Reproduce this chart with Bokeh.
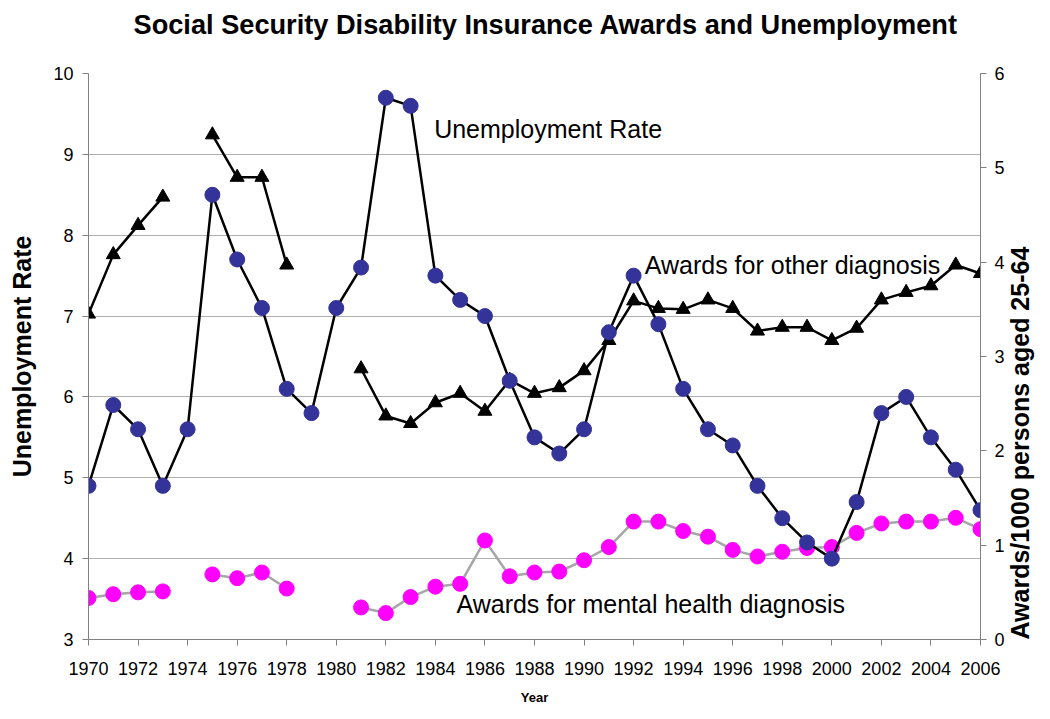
import math
from bokeh.plotting import figure
from bokeh.models import (Range1d, LinearAxis, FixedTicker, Label, ColumnDataSource, Title)
from bokeh.embed import file_html
from bokeh.resources import INLINE

nan = float("nan")
years = list(range(1970, 2007))
unemployment = [4.9, 5.9, 5.6, 4.9, 5.6, 8.5, 7.7, 7.1, 6.1, 5.8,
                7.1, 7.6, 9.7, 9.6, 7.5, 7.2, 7.0, 6.2, 5.5, 5.3,
                5.6, 6.8, 7.5, 6.9, 6.1, 5.6, 5.4, 4.9, 4.5, 4.2,
                4.0, 4.7, 5.8, 6.0, 5.5, 5.1, 4.6]
other_awards = [3.45, 4.08, 4.39, 4.69, nan, 5.35, 4.90, 4.90, 3.97, nan,
                nan, 2.87, 2.37, 2.29, 2.51, 2.61, 2.42, 2.75, 2.61, 2.67,
                2.85, 3.17, 3.59, 3.51, 3.50, 3.60, 3.51, 3.27, 3.31, 3.31,
                3.17, 3.30, 3.60, 3.68, 3.75, 3.97, 3.88]
mental_awards = [0.44, 0.48, 0.50, 0.51, nan, 0.69, 0.65, 0.71, 0.54, nan,
                 nan, 0.34, 0.28, 0.45, 0.56, 0.59, 1.05, 0.67, 0.71, 0.72,
                 0.84, 0.98, 1.25, 1.25, 1.15, 1.09, 0.95, 0.88, 0.93, 0.97,
                 0.98, 1.13, 1.23, 1.25, 1.25, 1.29, 1.17]
x_ticks = list(range(1970, 2007, 2))
left_ticks = [3, 4, 5, 6, 7, 8, 9, 10]
right_ticks = [0, 1, 2, 3, 4, 5, 6]

title_text = "Social Security Disability Insurance Awards and Unemployment"
left_label = "Unemployment Rate"
right_label = "Awards/1000 persons aged 25-64"
x_label = "Year"

FONT = "Liberation Sans"

p = figure(width=1050, height=712, output_backend="svg", toolbar_location=None,
           x_range=Range1d(1970, 2006), y_range=Range1d(3, 10),
           min_border_left=88, min_border_right=67, min_border_top=73, min_border_bottom=73)
p.outline_line_color = None
p.background_fill_color = "white"
p.border_fill_color = "white"

p.title.text = title_text
p.title.text_font = FONT
p.title.text_font_size = "27.2px"
p.title.text_font_style = "bold"
p.title.text_color = "black"
p.title.align = "left"
p.title.offset = 45
p.title.standoff = 0

# blank spacer between the title and the plotting area
p.add_layout(Title(text="\u00a0", text_font=FONT, text_font_size="10px", standoff=21), "above")

p.extra_y_ranges = {"awards": Range1d(0, 6)}

xa = p.xaxis[0]
xa.ticker = FixedTicker(ticks=x_ticks)
xa.axis_label = x_label

ya = p.yaxis[0]
ya.ticker = FixedTicker(ticks=left_ticks)
ya.axis_label = left_label

ra = LinearAxis(y_range_name="awards", ticker=FixedTicker(ticks=right_ticks),
                axis_label=right_label)
if "axis_label_orientation" in ra.properties():
    ra.axis_label_orientation = math.pi / 2
    if "axis_label_align" in ra.properties():
        ra.axis_label_align = "start"
p.add_layout(ra, "right")

for ax in [xa, ya, ra]:
    ax.axis_line_color = "#808080"
    ax.major_tick_line_color = "#808080"
    ax.major_tick_out = 6
    ax.major_tick_in = 0
    ax.minor_tick_line_color = None
    ax.major_label_text_font = FONT
    ax.major_label_text_font_size = "18px"
    ax.major_label_text_color = "black"
    ax.axis_label_text_font = FONT
    ax.axis_label_text_font_style = "bold"
    ax.axis_label_text_color = "black"

xa.major_label_standoff = 16
xa.axis_label_text_font_size = "13px"
xa.axis_label_standoff = 12
ya.major_label_standoff = 9
ya.axis_label_text_font_size = "25px"
ya.axis_label_standoff = 14
ra.major_label_standoff = 8
ra.axis_label_text_font_size = "25px"
ra.axis_label_standoff = 12

p.xgrid.grid_line_color = None
p.ygrid.grid_line_color = "#B0B0B0"
p.ygrid.grid_line_width = 1.2

src = ColumnDataSource(dict(year=years, unemp=unemployment,
                            other=other_awards, mental=mental_awards))

# mental health awards (right axis)
p.line("year", "mental", source=src, y_range_name="awards", line_color="#A6A6A6", line_width=2.5)
p.scatter("year", "mental", source=src, y_range_name="awards", marker="circle", size=15,
          fill_color="#FF00FF", line_color="#FF00FF")

# other diagnosis awards (right axis)
p.line("year", "other", source=src, y_range_name="awards", line_color="black", line_width=2.5)
p.scatter("year", "other", source=src, y_range_name="awards", marker="triangle", size=14,
          fill_color="black", line_color="black")

# unemployment (left axis)
p.line("year", "unemp", source=src, line_color="black", line_width=2.5)
p.scatter("year", "unemp", source=src, marker="circle", size=15,
          fill_color="#333399", line_color="#333399")

for txt, x, y in [("Unemployment Rate", 1983.95, 9.31),
                  ("Awards for other diagnosis", 1992.45, 7.63),
                  ("Awards for mental health diagnosis", 1984.85, 3.44)]:
    p.add_layout(Label(x=x, y=y, text=txt, text_font=FONT, text_font_size="25px",
                       text_baseline="middle", text_align="left", text_color="black"))

open("out.html", "w").write(file_html(p, INLINE))
